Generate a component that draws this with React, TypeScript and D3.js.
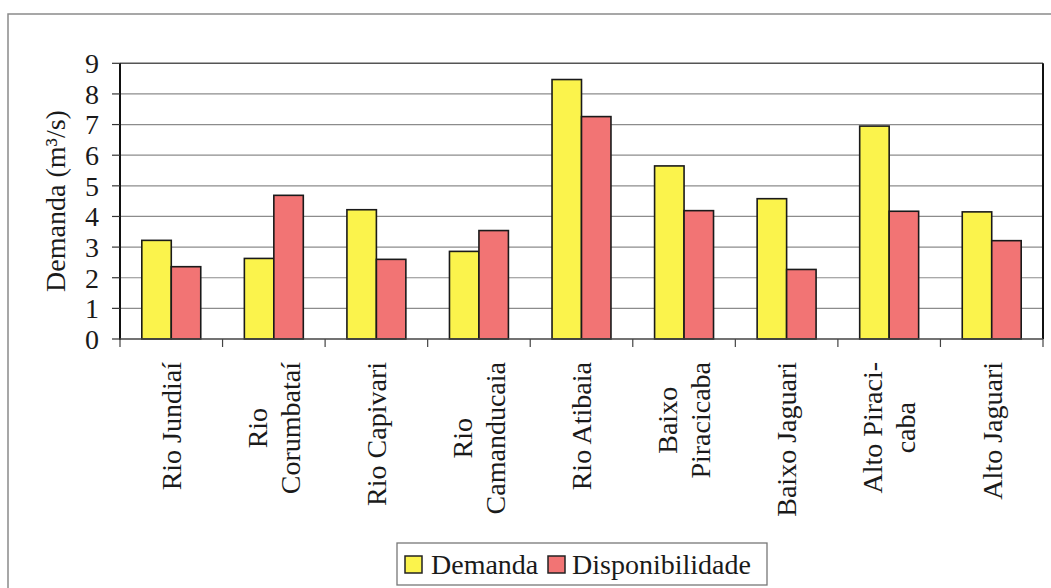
import React, { useEffect, useRef } from "react";
import * as d3 from "d3";

// Sub-basin names (line breaks as shown on the axis)
const categories = [
  "Rio Jundiaí",
  "Rio\nCorumbataí",
  "Rio Capivari",
  "Rio\nCamanducaia",
  "Rio Atibaia",
  "Baixo\nPiracicaba",
  "Baixo Jaguari",
  "Alto Piraci-\ncaba",
  "Alto Jaguari",
];
const demanda = [3.22, 2.63, 4.22, 2.86, 8.47, 5.65, 4.58, 6.95, 4.15];
const disponibilidade = [2.36, 4.69, 2.6, 3.54, 7.26, 4.19, 2.27, 4.17, 3.21];
const yTicks = [0, 1, 2, 3, 4, 5, 6, 7, 8, 9];
const seriesNames = ["Demanda", "Disponibilidade"];
const seriesColors = ["#fbf34c", "#f27474"];

const W = 1051;
const H = 588;
const FONT = "'Liberation Serif', 'Times New Roman', serif";
const FS = 28;
const INK = "#1a1a1a";

export default function App() {
  const ref = useRef<SVGSVGElement>(null);

  useEffect(() => {
    const svg = d3.select(ref.current);
    svg.selectAll("*").remove();

    const left = 120, right = 1043, top = 63.3, bottom = 339;

    // outer frame
    svg.append("rect")
      .attr("x", 8).attr("y", 14)
      .attr("width", W + 20).attr("height", H + 20)
      .attr("fill", "none").attr("stroke", "#8a8a8a").attr("stroke-width", 1.5);

    const x = d3.scaleBand<number>()
      .domain(categories.map((_, i) => i))
      .range([left, right]).padding(0);
    const inner = d3.scaleBand<string>()
      .domain(seriesNames)
      .range([0, x.bandwidth()])
      .paddingInner(0).paddingOuter(0.74);
    const y = d3.scaleLinear().domain([0, 9]).range([bottom, top]);

    // gridlines
    svg.append("g").selectAll("line")
      .data(yTicks.filter((t) => t > 0))
      .join("line")
      .attr("x1", left).attr("x2", right)
      .attr("y1", (d) => y(d)).attr("y2", (d) => y(d))
      .attr("stroke", (d) => (d === 9 ? "#555" : "#8c8c8c"))
      .attr("stroke-width", (d) => (d === 9 ? 1.6 : 1.2));

    // bars
    const series = [demanda, disponibilidade];
    series.forEach((vals, s) => {
      svg.append("g").selectAll("rect")
        .data(vals)
        .join("rect")
        .attr("x", (_, i) => (x(i) as number) + (inner(seriesNames[s]) as number))
        .attr("y", (d) => y(d))
        .attr("width", inner.bandwidth())
        .attr("height", (d) => y(0) - y(d))
        .attr("fill", seriesColors[s])
        .attr("stroke", "#1a1a1a")
        .attr("stroke-width", 1.6);
    });

    // right border of plot area
    svg.append("line")
      .attr("x1", right).attr("x2", right).attr("y1", top).attr("y2", bottom)
      .attr("stroke", "#111").attr("stroke-width", 2);

    // y axis
    const yAxis = svg.append("g");
    yAxis.append("line")
      .attr("x1", left).attr("x2", left).attr("y1", top).attr("y2", bottom + 1)
      .attr("stroke", "#111").attr("stroke-width", 2);
    yAxis.selectAll("line.tick")
      .data(yTicks).join("line").attr("class", "tick")
      .attr("x1", left - 8).attr("x2", left)
      .attr("y1", (d) => y(d)).attr("y2", (d) => y(d))
      .attr("stroke", "#333").attr("stroke-width", 1.2);
    yAxis.selectAll("text")
      .data(yTicks).join("text")
      .attr("x", 99).attr("y", (d) => y(d))
      .attr("dy", "0.35em")
      .attr("text-anchor", "end")
      .attr("font-family", FONT).attr("font-size", FS)
      .attr("fill", INK)
      .text((d) => d);

    // x axis
    svg.append("line")
      .attr("x1", left).attr("x2", right).attr("y1", bottom).attr("y2", bottom)
      .attr("stroke", "#444").attr("stroke-width", 1.6);
    const bounds = d3.range(categories.length + 1).map(
      (i) => left + i * x.step()
    );
    svg.append("g").selectAll("line")
      .data(bounds).join("line")
      .attr("x1", (d) => d).attr("x2", (d) => d)
      .attr("y1", bottom).attr("y2", bottom + 8)
      .attr("stroke", "#444").attr("stroke-width", 1.2);

    // category labels, rotated, block anchored under the axis
    const labelTop = 362;
    const lineGap = 33;
    categories.forEach((c, i) => {
      const lines = c.split("\n");
      const cx = (x(i) as number) + x.bandwidth() / 2;
      const g = svg.append("g");
      const texts = lines.map((ln) =>
        g.append("text")
          .attr("font-family", FONT).attr("font-size", FS)
          .attr("fill", INK)
          .attr("text-anchor", "middle")
          .attr("dy", "0.35em")
          .text(ln)
      );
      const maxLen = d3.max(texts, (t) => (t.node() as SVGTextElement).getComputedTextLength()) || 0;
      const cy = labelTop + maxLen / 2;
      texts.forEach((t, k) => {
        const off = (k - (lines.length - 1) / 2) * lineGap;
        t.attr("transform", `translate(${cx + off},${cy}) rotate(-90)`);
      });
    });

    // y title
    svg.append("text")
      .attr("transform", `translate(55,201) rotate(-90)`)
      .attr("text-anchor", "middle")
      .attr("dy", "0.35em")
      .attr("font-family", FONT).attr("font-size", FS)
      .attr("fill", INK)
      .text("Demanda (m³/s)");

    // legend
    const lg = svg.append("g");
    lg.append("rect")
      .attr("x", 397).attr("y", 543).attr("width", 370).attr("height", 42)
      .attr("fill", "#fff").attr("stroke", "#777").attr("stroke-width", 1.3);
    const items = [
      { sx: 405, tx: 431 },
      { sx: 548, tx: 572 },
    ];
    seriesNames.forEach((n, s) => {
      lg.append("rect")
        .attr("x", items[s].sx).attr("y", 556).attr("width", 17).attr("height", 17)
        .attr("fill", seriesColors[s]).attr("stroke", "#222").attr("stroke-width", 1.5);
      lg.append("text")
        .attr("x", items[s].tx).attr("y", 564)
        .attr("dy", "0.35em")
        .attr("font-family", FONT).attr("font-size", FS)
        .attr("fill", INK)
        .text(n);
    });
  }, []);

  return (
    <svg
      ref={ref}
      width={W}
      height={H}
      style={{ position: "absolute", left: 0, top: 0, background: "#fff" }}
    />
  );
}
